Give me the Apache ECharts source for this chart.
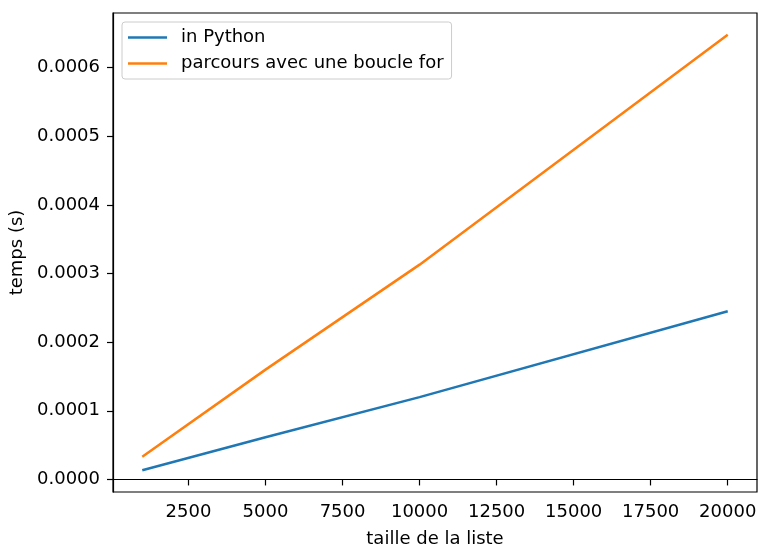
<!DOCTYPE html>
<html>
<head>
<meta charset="utf-8">
<script src="https://cdn.jsdelivr.net/npm/echarts@6/dist/echarts.min.js"></script>
<style>
  html, body { margin: 0; padding: 0; background: #fff; }
  #chart { width: 760px; height: 547px; }
</style>
</head>
<body>
<div id="chart"></div>
<script>
const sizes = [1000, 5000, 10000, 20000]
const inPython = [0.0000134, 0.0000615, 0.00012, 0.000245]
const boucleFor = [0.0000332, 0.00016, 0.000313, 0.000648]
const xTicks = [2500, 5000, 7500, 10000, 12500, 15000, 17500, 20000]
const yTicks = [0, 0.0001, 0.0002, 0.0003, 0.0004, 0.0005, 0.0006]

const font = 'DejaVu Sans'
const fs = 18
const chart = echarts.init(document.getElementById('chart'))

function pairs(ys) {
  return sizes.map((x, i) => [x, ys[i]])
}

chart.setOption({
  animation: false,
  backgroundColor: '#fff',
  textStyle: { fontFamily: font },
  grid: {
    left: 113,
    right: 3,
    top: 13,
    bottom: 55,
    outerBoundsMode: 'none',
    containLabel: false,
    show: true,
    borderColor: '#000',
    borderWidth: 1.2,
    backgroundColor: 'transparent'
  },
  legend: {
    left: 122,
    top: 22,
    orient: 'vertical',
    icon: 'rect',
    itemWidth: 39,
    itemHeight: 2.5,
    itemGap: 5,
    padding: [5, 8, 5, 6],
    backgroundColor: 'rgba(255,255,255,0.8)',
    borderColor: '#cccccc',
    borderWidth: 1,
    borderRadius: 3,
    textStyle: {
      fontFamily: font,
      fontSize: fs,
      color: '#000',
      lineHeight: 21,
      padding: [0, 0, 0, 9]
    },
    data: ['in Python', 'parcours avec une boucle for']
  },
  xAxis: {
    type: 'value',
    min: 50,
    max: 20950,
    name: 'taille de la liste',
    nameLocation: 'middle',
    nameGap: 38,
    nameTextStyle: { fontFamily: font, fontSize: fs, color: '#000' },
    axisLine: { show: true, lineStyle: { color: '#000', width: 1.2 } },
    axisTick: {
      show: true,
      length: 6,
      customValues: xTicks,
      lineStyle: { color: '#000', width: 1.2 }
    },
    axisLabel: {
      customValues: xTicks,
      margin: 11,
      fontFamily: font,
      fontSize: fs,
      color: '#000',
      formatter: (v) => String(Math.round(v))
    },
    splitLine: { show: false }
  },
  yAxis: {
    type: 'value',
    min: -0.0000183,
    max: 0.0006797,
    name: 'temps (s)',
    nameLocation: 'middle',
    nameGap: 82,
    nameTextStyle: { fontFamily: font, fontSize: fs, color: '#000' },
    axisLine: { show: true, lineStyle: { color: '#000', width: 1.2 } },
    axisTick: {
      show: true,
      length: 6,
      customValues: yTicks,
      lineStyle: { color: '#000', width: 1.2 }
    },
    axisLabel: {
      customValues: yTicks,
      margin: 13,
      fontFamily: font,
      fontSize: fs,
      color: '#000',
      formatter: (v) => v.toFixed(4)
    },
    splitLine: { show: false }
  },
  series: [
    {
      name: 'in Python',
      type: 'line',
      data: pairs(inPython),
      showSymbol: false,
      color: '#1f77b4',
      lineStyle: { width: 2.5, color: '#1f77b4' }
    },
    {
      name: 'parcours avec une boucle for',
      type: 'line',
      data: pairs(boucleFor),
      showSymbol: false,
      color: '#ff7f0e',
      lineStyle: { width: 2.5, color: '#ff7f0e' }
    }
  ]
})
</script>
</body>
</html>
